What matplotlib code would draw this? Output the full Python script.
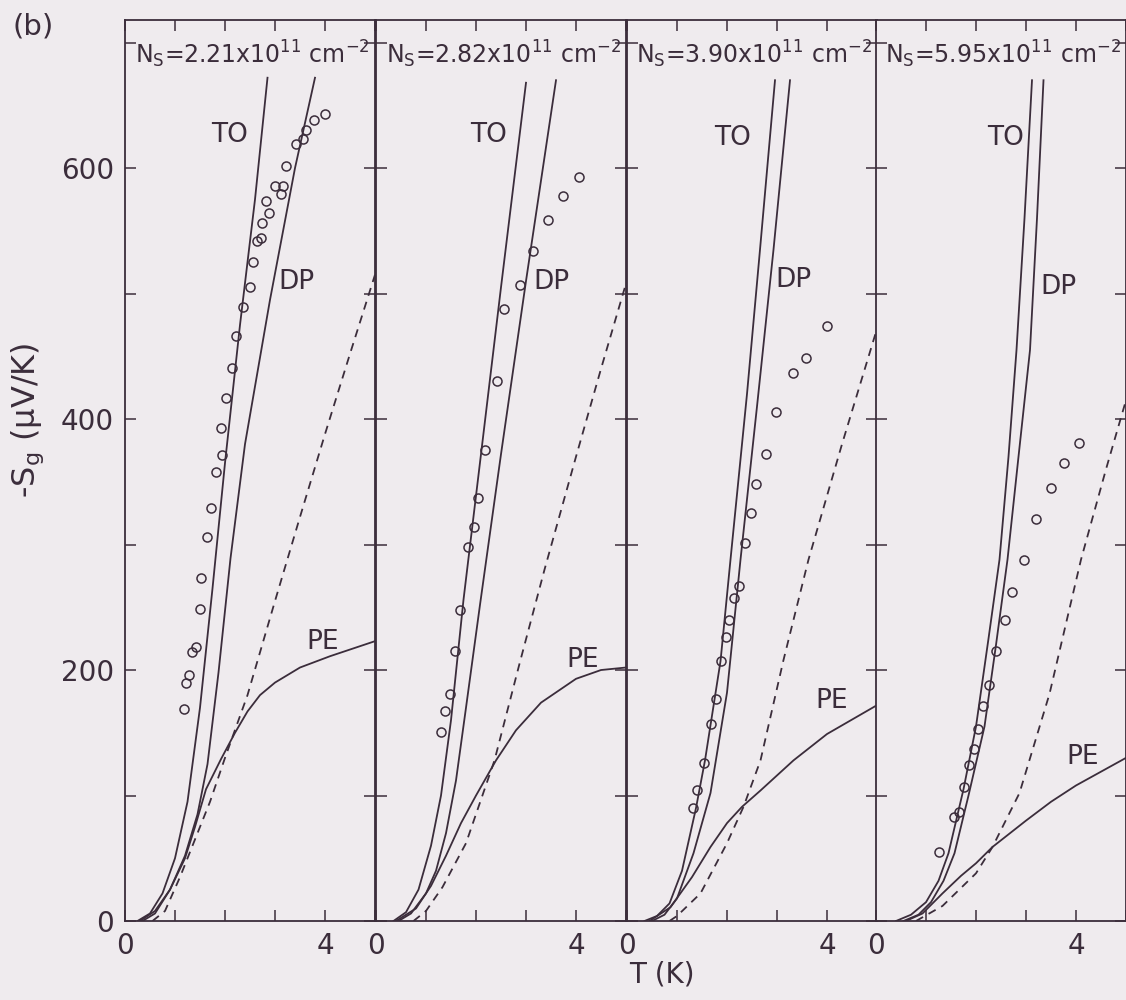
import numpy as np
import matplotlib
matplotlib.use("Agg")
import matplotlib.pyplot as plt

# carrier densities (panel titles)
ns_labels = ["2.21", "2.82", "3.90", "5.95"]

# panel 1: Ns = 2.21
to1_t = [0.25, 0.5, 0.75, 1.0, 1.25, 1.5, 1.75, 2.0, 2.3, 2.6, 2.85]
to1_s = [0, 6, 22, 50, 95, 170, 265, 365, 475, 575, 672]
dp1_t = [0.35, 0.6, 0.9, 1.2, 1.45, 1.65, 1.87, 2.11, 2.4, 2.9, 3.4, 3.8]
dp1_s = [0, 6, 25, 52, 85, 125, 198, 289, 380, 495, 600, 672]
pe1_t = [0.3, 0.6, 0.9, 1.2, 1.4, 1.62, 1.92, 2.2, 2.45, 2.7, 3.0, 3.5, 4.1, 5.0]
pe1_s = [0, 8, 25, 50, 75, 105, 129, 150, 167, 180, 190, 202, 211, 223]
da1_t = [0.55, 0.8, 1.1, 1.4, 1.7, 2.0, 2.45, 3.0, 3.5, 4.0, 4.5, 5.0]
da1_s = [0, 8, 35, 65, 95, 130, 180, 255, 322, 388, 452, 515]
ex1_t = [4.00, 3.78, 3.61, 3.55, 3.41, 3.21, 3.15, 3.00, 3.11, 2.82, 2.88, 2.74,
         2.72, 2.63, 2.55, 2.49, 2.35, 2.22, 2.14, 2.02, 1.92, 1.94, 1.81, 1.72,
         1.64, 1.52, 1.49, 1.41, 1.33, 1.28, 1.21, 1.18]
ex1_s = [643, 638, 630, 623, 619, 602, 586, 586, 579, 574, 564, 556,
         544, 542, 525, 505, 489, 466, 441, 417, 393, 371, 358, 329,
         306, 273, 249, 218, 214, 196, 190, 169]

# panel 2: Ns = 2.82
to2_t = [0.35, 0.6, 0.85, 1.1, 1.3, 1.5, 1.75, 2.1, 2.5, 3.0]
to2_s = [0, 7, 25, 60, 100, 160, 256, 372, 505, 668]
dp2_t = [0.45, 0.7, 1.0, 1.2, 1.4, 1.6, 1.8, 2.08, 2.5, 3.0, 3.6]
dp2_s = [0, 6, 22, 40, 70, 112, 170, 252, 372, 510, 670]
pe2_t = [0.4, 0.8, 1.1, 1.4, 1.7, 2.0, 2.4, 2.8, 3.3, 4.0, 4.5, 5.0]
pe2_s = [0, 10, 28, 52, 78, 100, 128, 152, 174, 193, 200, 202]
da2_t = [0.75, 1.0, 1.33, 1.8, 2.37, 2.87, 3.37, 4.0, 4.5, 5.0]
da2_s = [0, 8, 27, 62, 128, 205, 280, 370, 440, 508]
ex2_t = [4.05, 3.73, 3.43, 3.13, 2.87, 2.56, 2.41, 2.17, 2.03, 1.96, 1.83,
         1.68, 1.58, 1.48, 1.38, 1.30]
ex2_s = [593, 578, 559, 534, 507, 488, 430, 375, 337, 314, 298,
         248, 215, 181, 167, 151]

# panel 3: Ns = 3.90
to3_t = [0.35, 0.6, 0.85, 1.1, 1.38, 1.56, 1.87, 2.07, 2.4, 2.66, 2.96]
to3_s = [0, 4, 14, 40, 90, 128, 207, 288, 420, 535, 670]
dp3_t = [0.5, 0.75, 1.0, 1.33, 1.67, 2.0, 2.27, 2.6, 2.93, 3.26]
dp3_s = [0, 5, 18, 54, 102, 182, 288, 410, 535, 670]
pe3_t = [0.45, 0.87, 1.3, 1.67, 2.0, 2.3, 2.67, 3.33, 4.0, 5.0]
pe3_s = [0, 11, 35, 59, 78, 91, 104, 128, 149, 172]
da3_t = [0.85, 1.0, 1.47, 2.0, 2.33, 2.67, 3.13, 3.63, 4.3, 5.0]
da3_s = [0, 4, 22, 62, 91, 128, 208, 288, 380, 472]
ex3_t = [3.99, 3.58, 3.31, 2.98, 2.77, 2.58, 2.48, 2.36, 2.23, 2.13, 2.03,
         1.97, 1.87, 1.77, 1.68, 1.54, 1.39, 1.31]
ex3_s = [474, 449, 437, 406, 372, 348, 325, 301, 267, 257, 240,
         226, 207, 177, 157, 126, 104, 90]

# panel 4: Ns = 5.95
to4_t = [0.4, 0.7, 1.0, 1.25, 1.45, 1.75, 2.0, 2.25, 2.47, 2.65, 2.81, 2.97, 3.12]
to4_s = [0, 5, 15, 32, 54, 105, 155, 225, 288, 370, 455, 560, 670]
dp4_t = [0.55, 0.85, 1.1, 1.35, 1.57, 1.85, 2.17, 2.4, 2.63, 2.85, 3.08, 3.22, 3.35]
dp4_s = [0, 5, 15, 32, 54, 100, 155, 220, 288, 370, 455, 560, 670]
pe4_t = [0.6, 0.93, 1.33, 1.7, 2.0, 2.33, 3.0, 3.5, 4.0, 4.5, 5.0]
pe4_s = [0, 6, 22, 36, 46, 59, 80, 95, 108, 119, 130]
da4_t = [0.8, 1.33, 2.0, 2.33, 2.87, 3.47, 4.1, 4.6, 5.0]
da4_s = [0, 12, 38, 59, 102, 181, 288, 360, 415]
ex4_t = [4.06, 3.75, 3.49, 3.19, 2.95, 2.71, 2.58, 2.39, 2.25, 2.13, 2.03,
         1.95, 1.86, 1.75, 1.65, 1.55, 1.25]
ex4_s = [381, 365, 345, 320, 288, 262, 240, 215, 188, 171, 153,
         137, 124, 107, 87, 83, 55]

panels = [
    (to1_t, to1_s, dp1_t, dp1_s, pe1_t, pe1_s, da1_t, da1_s, ex1_t, ex1_s),
    (to2_t, to2_s, dp2_t, dp2_s, pe2_t, pe2_s, da2_t, da2_s, ex2_t, ex2_s),
    (to3_t, to3_s, dp3_t, dp3_s, pe3_t, pe3_s, da3_t, da3_s, ex3_t, ex3_s),
    (to4_t, to4_s, dp4_t, dp4_s, pe4_t, pe4_s, da4_t, da4_s, ex4_t, ex4_s),
]

# label anchor points (T, S) per panel
to_pos = [(2.1, 626), (2.25, 626), (2.12, 624), (2.6, 624)]
dp_pos = [(3.43, 509), (3.5, 509), (3.32, 511), (3.64, 505)]
pe_pos = [(3.96, 222), (4.13, 208), (4.1, 175), (4.14, 131)]

ink = "#3b2d3b"
bg = "#efebee"
plt.rcParams["font.family"] = "DejaVu Sans"

fig = plt.figure(figsize=(11.26, 10), dpi=100, facecolor=bg)
lefts = [125, 376, 627, 876]

for i, (tt, ts, dt, ds, pt, ps, at, as_, et, es) in enumerate(panels):
    ax = fig.add_axes([lefts[i] / 1126, 0.079, 250 / 1126, 0.901])
    ax.set_facecolor(bg)
    lw = 1.3
    ax.plot(tt, ts, color=ink, lw=lw)
    ax.plot(dt, ds, color=ink, lw=lw)
    ax.plot(pt, ps, color=ink, lw=lw)
    ax.plot(at, as_, color=ink, lw=lw, linestyle=(0, (4.5, 3.5)))
    ax.plot(et, es, "o", mfc="none", mec=ink, ms=6.5, mew=1.1)

    ax.set_xlim(0, 5)
    ax.set_ylim(0, 718)
    ax.set_xticks(range(0, 6))
    ax.set_xticklabels(["0", "", "", "", "4", ""])
    ax.set_yticks(range(0, 701, 100))
    if i == 0:
        ax.set_yticklabels(["0", "", "200", "", "400", "", "600", ""])
    else:
        ax.set_yticklabels([])
    ax.tick_params(direction="in", length=8, width=1.1, color=ink,
                   top=True, right=True, labelsize=20, labelcolor=ink, pad=8)
    for sp in ax.spines.values():
        sp.set_color(ink)
        sp.set_linewidth(1.3)

    ax.text(0.51, 0.962,
            r"N$_\mathregular{S}$=%sx10$^\mathregular{11}$ cm$^\mathregular{-2}$" % ns_labels[i],
            transform=ax.transAxes, ha="center", va="center", fontsize=17, color=ink)
    ax.text(*to_pos[i], "TO", fontsize=19, color=ink, ha="center", va="center")
    ax.text(*dp_pos[i], "DP", fontsize=19, color=ink, ha="center", va="center")
    ax.text(*pe_pos[i], "PE", fontsize=19, color=ink, ha="center", va="center")

fig.text(33 / 1126, 1 - 27 / 1000, "(b)", fontsize=21, color=ink, ha="center", va="center")
fig.text(28 / 1126, 1 - 420 / 1000, "-S$_\\mathregular{g}$ (μV/K)", rotation=90,
         fontsize=23, color=ink, ha="center", va="center")
fig.text(662 / 1126, 1 - 975 / 1000, "T (K)", fontsize=20, color=ink,
         ha="center", va="center")

fig.savefig("out.png", dpi=100, facecolor=bg)
